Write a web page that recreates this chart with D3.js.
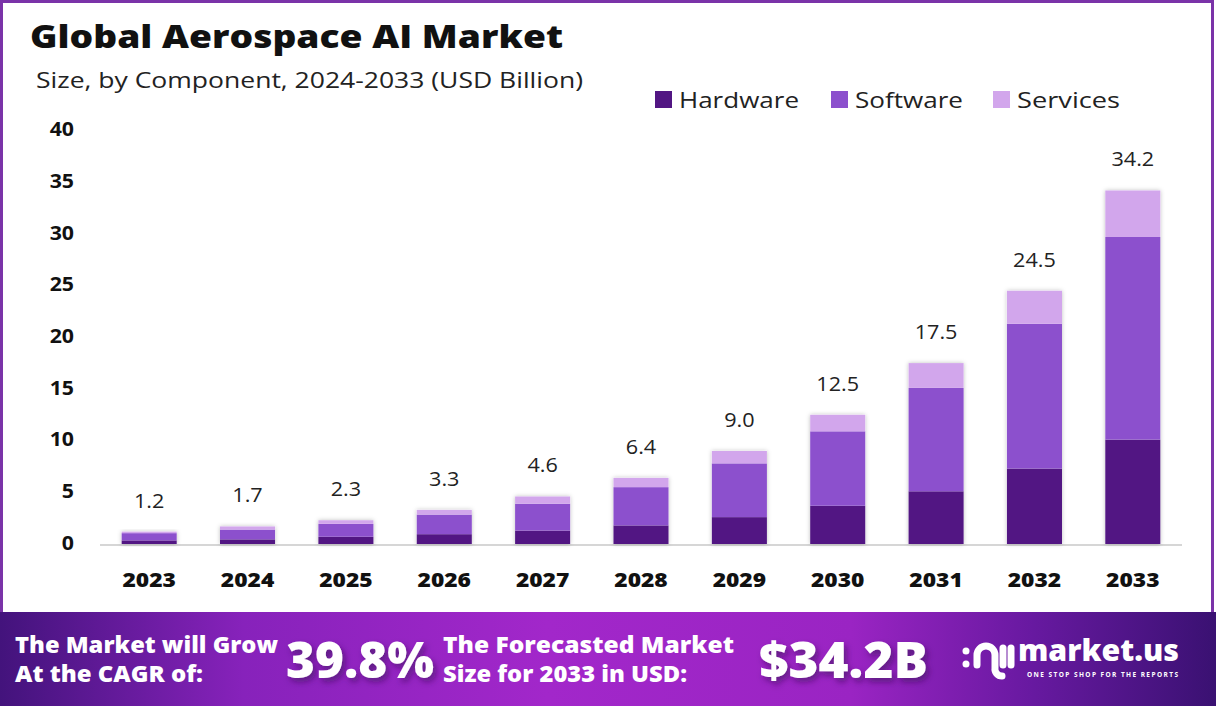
<!DOCTYPE html>
<html>
<head>
<meta charset="utf-8">
<script src="https://cdn.jsdelivr.net/npm/d3@7"></script>
<style>
  body { margin: 0; background: #fff; }
  svg { display: block; font-family: "Open Sans", sans-serif; }
</style>
</head>
<body>
<svg></svg>
<script>
var years = ["2023","2024","2025","2026","2027","2028","2029","2030","2031","2032","2033"];
var hardware = [0.35, 0.45, 0.7, 0.95, 1.3, 1.8, 2.6, 3.7, 5.1, 7.3, 10.1];
var software = [0.7, 0.95, 1.25, 1.9, 2.6, 3.7, 5.2, 7.2, 10.0, 14.0, 19.6];
var services = [0.15, 0.3, 0.35, 0.45, 0.7, 0.9, 1.2, 1.6, 2.4, 3.2, 4.5];
var seriesNames = ["Hardware","Software","Services"];
var yTicks = [0, 5, 10, 15, 20, 25, 30, 35, 40];

var colors = {Hardware:"#521683", Software:"#8c50cd", Services:"#d2a6ec"};

var screen = {width:1216, height:706}

var svg = d3.select("svg")
            .attr("width", screen.width)
            .attr("height", screen.height)

// the original uses a wide geometric face; stretch our text sideways to the same extent
var widen = function(sel, factor){
  sel.each(function(){
    var w = this.getComputedTextLength();
    d3.select(this).attr("textLength", w*factor).attr("lengthAdjust","spacingAndGlyphs")
  })
}

var defs = svg.append("defs")
var shadow = defs.append("filter").attr("id","barShadow")
                 .attr("x","-20%").attr("y","-20%").attr("width","140%").attr("height","140%")
shadow.append("feDropShadow").attr("dx",0).attr("dy",0).attr("stdDeviation",2)
      .attr("flood-color","#000").attr("flood-opacity",0.25)

var txtShadow = defs.append("filter").attr("id","txtShadow")
                    .attr("x","-20%").attr("y","-20%").attr("width","140%").attr("height","150%")
txtShadow.append("feDropShadow").attr("dx",3).attr("dy",4).attr("stdDeviation",3)
         .attr("flood-color","#3a0a5a").attr("flood-opacity",0.6)

var grad = defs.append("linearGradient").attr("id","banner")
               .attr("x1","0").attr("x2","1").attr("y1","0").attr("y2","0")
var stops = [[0,"#43137c"],[0.2,"#8722bb"],[0.45,"#a227ca"],[0.7,"#9a24c3"],[0.85,"#6719a0"],[1,"#3a1172"]]
stops.forEach(function(s){
  grad.append("stop").attr("offset",s[0]).attr("stop-color",s[1])
})

// frame
svg.append("rect")
   .attr("x",1.5).attr("y",1.5)
   .attr("width",screen.width-5).attr("height",612)
   .attr("fill","none").attr("stroke","#7a33a8").attr("stroke-width",3)

// titles
svg.append("text").attr("x",30).attr("y",48)
   .attr("font-size",32).attr("font-weight",800).attr("fill","#111")
   .attr("textLength",533).attr("lengthAdjust","spacingAndGlyphs")
   .text("Global Aerospace AI Market")
svg.append("text").attr("x",36).attr("y",88)
   .attr("font-size",22).attr("fill","#222")
   .attr("textLength",547).attr("lengthAdjust","spacingAndGlyphs")
   .text("Size, by Component, 2024-2033 (USD Billion)")

// scales
var x = d3.scaleBand().domain(years).range([100,1182])
          .paddingInner(0.44).paddingOuter(0.22)
var y = d3.scaleLinear().domain([0,40]).range([544,130.5])

// stack data
var table = years.map(function(yr,i){
  return {year:yr, Hardware:hardware[i], Software:software[i], Services:services[i]}
})
var stacked = d3.stack().keys(seriesNames)(table)

// y labels
svg.append("g").selectAll("text")
   .data(yTicks).enter().append("text")
   .attr("x",74).attr("y",function(d){ return y(d)-1 })
   .attr("dy","0.35em").attr("text-anchor","end")
   .attr("font-size",19).attr("font-weight",700).attr("fill","#111")
   .text(function(d){ return d })
   .call(widen,1.12)

// baseline
svg.append("line").attr("x1",100).attr("x2",1182)
   .attr("y1",545).attr("y2",545)
   .attr("stroke","#d6d6d6").attr("stroke-width",2)

// bars
var barG = svg.append("g")
barG.selectAll("rect.shadow")
    .data(table).enter().append("rect").classed("shadow",true)
    .attr("x",function(d){ return x(d.year) })
    .attr("width",x.bandwidth())
    .attr("y",function(d){ return y(d.Hardware+d.Software+d.Services) })
    .attr("height",function(d){ return y(0)-y(d.Hardware+d.Software+d.Services) })
    .attr("fill","#fff").attr("filter","url(#barShadow)")

var layers = barG.selectAll("g.layer")
                 .data(stacked).enter().append("g").classed("layer",true)
                 .attr("fill",function(d){ return colors[d.key] })
layers.selectAll("rect")
      .data(function(d){ return d })
      .enter().append("rect")
      .attr("x",function(d){ return x(d.data.year) })
      .attr("width",x.bandwidth())
      .attr("y",function(d){ return y(d[1]) })
      .attr("height",function(d){ return y(d[0])-y(d[1]) })

// totals
svg.append("g").selectAll("text")
   .data(table).enter().append("text")
   .attr("x",function(d){ return x(d.year)+x.bandwidth()/2 })
   .attr("y",function(d){ return y(d.Hardware+d.Software+d.Services)-24 })
   .attr("text-anchor","middle").attr("font-size",20).attr("fill","#222")
   .text(function(d){ return d3.format(".1f")(d.Hardware+d.Software+d.Services) })
   .call(widen,1.08)

// x labels
svg.append("g").selectAll("text")
   .data(years).enter().append("text")
   .attr("x",function(d){ return x(d)+x.bandwidth()/2 })
   .attr("y",587)
   .attr("text-anchor","middle").attr("font-size",20).attr("font-weight",800).attr("fill","#111")
   .text(function(d){ return d })
   .call(widen,1.14)

// legend
var legendX = [655, 831, 993]
var legendW = [120, 108, 103]
var legend = svg.append("g").selectAll("g")
                .data(seriesNames).enter().append("g")
                .attr("transform",function(d,i){ return "translate("+legendX[i]+",91)" })
legend.append("rect").attr("width",17).attr("height",17)
      .attr("fill",function(d){ return colors[d] })
legend.append("text").attr("x",24).attr("y",16.5)
      .attr("font-size",22).attr("fill","#222")
      .attr("textLength",function(d,i){ return legendW[i] }).attr("lengthAdjust","spacingAndGlyphs")
      .text(function(d){ return d })

// bottom banner
svg.append("rect").attr("x",0).attr("y",612)
   .attr("width",screen.width).attr("height",screen.height-612)
   .attr("fill","url(#banner)")

var bannerText = [
  {t:"The Market will Grow", x:15, y:653, s:23, w:263},
  {t:"At the CAGR of:", x:15, y:682, s:23, w:188},
  {t:"39.8%", x:286, y:678, s:50, w:148, big:true},
  {t:"The Forecasted Market", x:443, y:653, s:23, w:291},
  {t:"Size for 2033 in USD:", x:443, y:682, s:23, w:244},
  {t:"$34.2B", x:759, y:678, s:50, w:169, big:true}
]
svg.append("g").selectAll("text")
   .data(bannerText).enter().append("text")
   .attr("x",function(d){ return d.x }).attr("y",function(d){ return d.y })
   .attr("font-size",function(d){ return d.s }).attr("font-weight",800).attr("fill","#fff")
   .attr("textLength",function(d){ return d.w }).attr("lengthAdjust","spacingAndGlyphs")
   .attr("filter",function(d){ return d.big ? "url(#txtShadow)" : null })
   .text(function(d){ return d.t })

// logo
var logo = svg.append("g").attr("stroke","#fff").attr("fill","none")
              .attr("stroke-width",7).attr("stroke-linecap","round")
logo.append("circle").attr("cx",966).attr("cy",651).attr("r",3.5).attr("fill","#fff").attr("stroke","none")
logo.append("circle").attr("cx",966).attr("cy",664).attr("r",3.5).attr("fill","#fff").attr("stroke","none")
logo.append("path").attr("d","M977,665 L977,655 A9,9 0 0 1 995,655 L995,668 A7,7 0 0 0 1002,676")
logo.append("line").attr("x1",1003).attr("x2",1003).attr("y1",648).attr("y2",665)
logo.append("line").attr("x1",1011).attr("x2",1011).attr("y1",648).attr("y2",665)
svg.append("text").attr("x",1018).attr("y",661).attr("font-size",30).attr("font-weight",800)
   .attr("textLength",161).attr("lengthAdjust","spacingAndGlyphs")
   .attr("fill","#fff").text("market.us")
svg.append("text").attr("x",1027).attr("y",677).attr("font-size",6.5).attr("font-weight",700)
   .attr("textLength",151).attr("lengthAdjust","spacing")
   .attr("fill","#fff").text("ONE STOP SHOP FOR THE REPORTS")
</script>
</body>
</html>
